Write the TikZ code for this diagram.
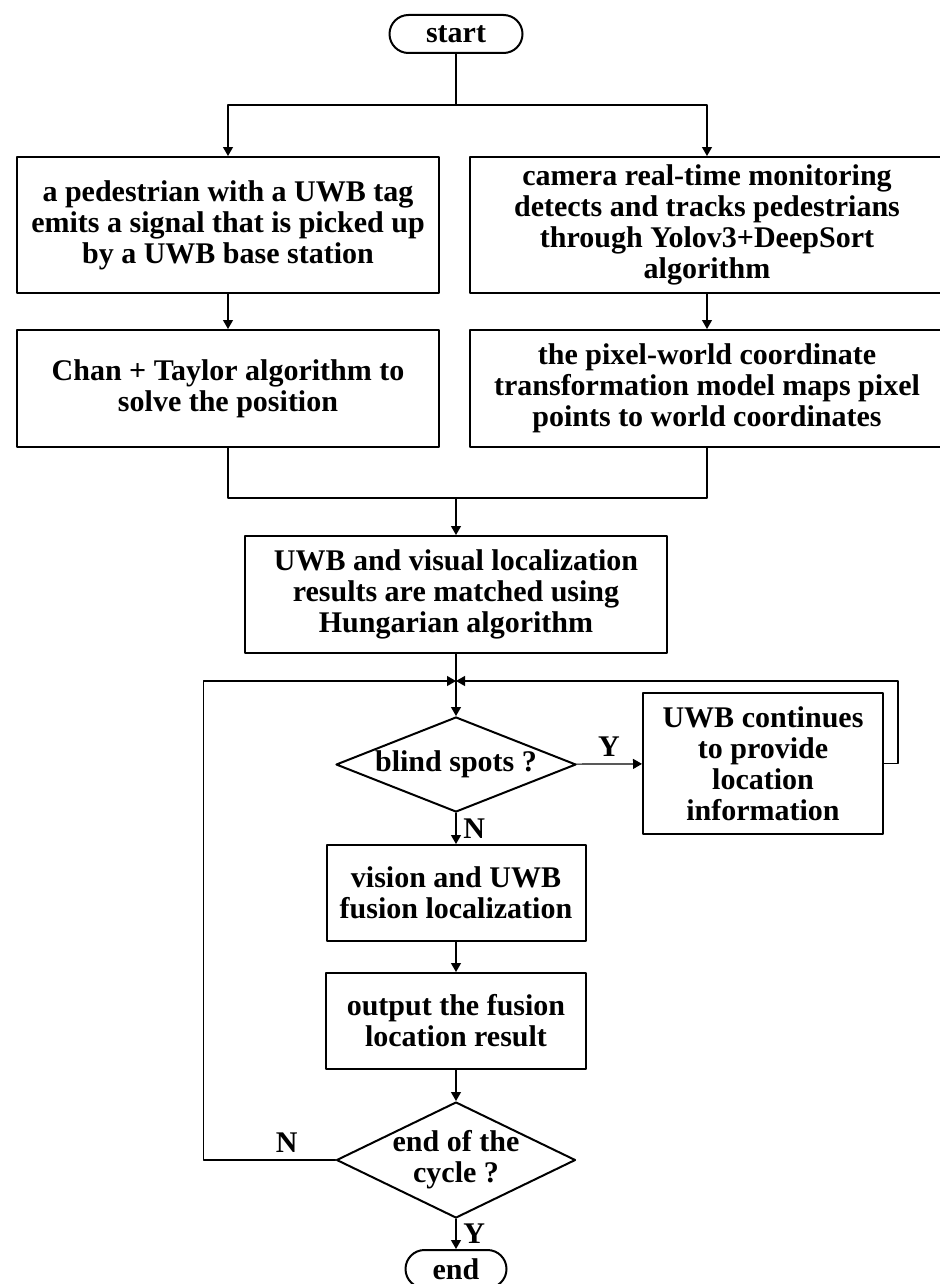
\documentclass[tikz,border=0pt]{standalone}
\usepackage{fontspec}
\setmainfont{Liberation Serif}
\usetikzlibrary{shapes.geometric,arrows.meta}
\tikzset{
  procbox/.style={draw,line width=1pt,align=center,inner sep=2pt},
  termbox/.style={draw,line width=1pt,rounded corners=9.5pt,minimum width=#1,minimum height=19pt,inner sep=0pt},
  decision/.style={draw,diamond,line width=1pt,inner sep=0pt},
}
\begin{document}
\begin{tikzpicture}[line cap=round,line join=round,>={Triangle[length=4.5pt,width=5pt]},x=0.5pt,y=-0.5pt,line width=0.6pt,font=\bfseries\fontsize{15}{15.5}\selectfont]
			\useasboundingbox (0,0) rectangle (939,1284);
			\node[termbox=66.5pt] (start) at (456,34) {start};
			\node[procbox,minimum width=211pt,minimum height=68pt] (uwbtag) at (228,225) {a pedestrian with a UWB tag\\emits a signal that is picked up\\by a UWB base station};
			\node[procbox,minimum width=237pt,minimum height=68pt] (camera) at (707,225) {camera real-time monitoring\\detects and tracks pedestrians\\through Yolov3+DeepSort\\algorithm};
			\node[procbox,minimum width=211pt,minimum height=58.5pt] (chan) at (228,388.5) {Chan + Taylor algorithm to\\solve the position};
			\node[procbox,minimum width=237pt,minimum height=58.5pt] (pixel) at (707,388.5) {the pixel-world coordinate\\transformation model maps pixel\\points to world coordinates};
			\node[procbox,minimum width=211pt,minimum height=58.5pt] (match) at (456,594.5) {UWB and visual localization\\results are matched using\\Hungarian algorithm};
			\node[decision,minimum width=120pt,minimum height=47.5pt,label={center:blind spots ?}] (blind) at (456,764.5) {};
			\node[procbox,minimum width=120pt,minimum height=70.5pt] (uwbkeep) at (763,763.5) {UWB continues\\to provide\\location\\information};
			\node[procbox,minimum width=129.5pt,minimum height=48pt] (fusion) at (456,893) {vision and UWB\\fusion localization};
			\node[procbox,minimum width=130pt,minimum height=48pt] (result) at (456,1021) {output the fusion\\location result};
			\node[decision,minimum width=119.5pt,minimum height=58pt,label={[align=center]center:{end of the\\cycle ?}}] (cycle) at (456,1160) {};
			\node[termbox=50.5pt] (stop) at (456,1269) {end};
			\coordinate (split) at (456,105);
			\coordinate (join) at (456,498);
			\coordinate (merge) at (456,681);
			\draw (start) -- (split);
			\draw[->] (split) -| (uwbtag);
			\draw[->] (split) -| (camera);
			\draw[->] (uwbtag) -- (chan);
			\draw[->] (camera) -- (pixel);
			\draw (chan) |- (join);
			\draw (pixel) |- (join);
			\draw[->] (join) -- (match);
			\draw[->] (match) -- (blind);
			\draw[->] (blind) -- node[above]{Y} (uwbkeep);
			\draw[->] (uwbkeep.east) -- ++(14,0) |- (merge);
			\draw[->] (blind) -- node[right]{N} (fusion);
			\draw[->] (fusion) -- (result);
			\draw[->] (result) -- (cycle);
			\draw[->] (cycle) -- node[right]{Y} (stop);
			\draw[->] (cycle.west) -- ++(-132,0) node[pos=0.37,above]{N} |- (merge);
	\end{tikzpicture}
\end{document}
